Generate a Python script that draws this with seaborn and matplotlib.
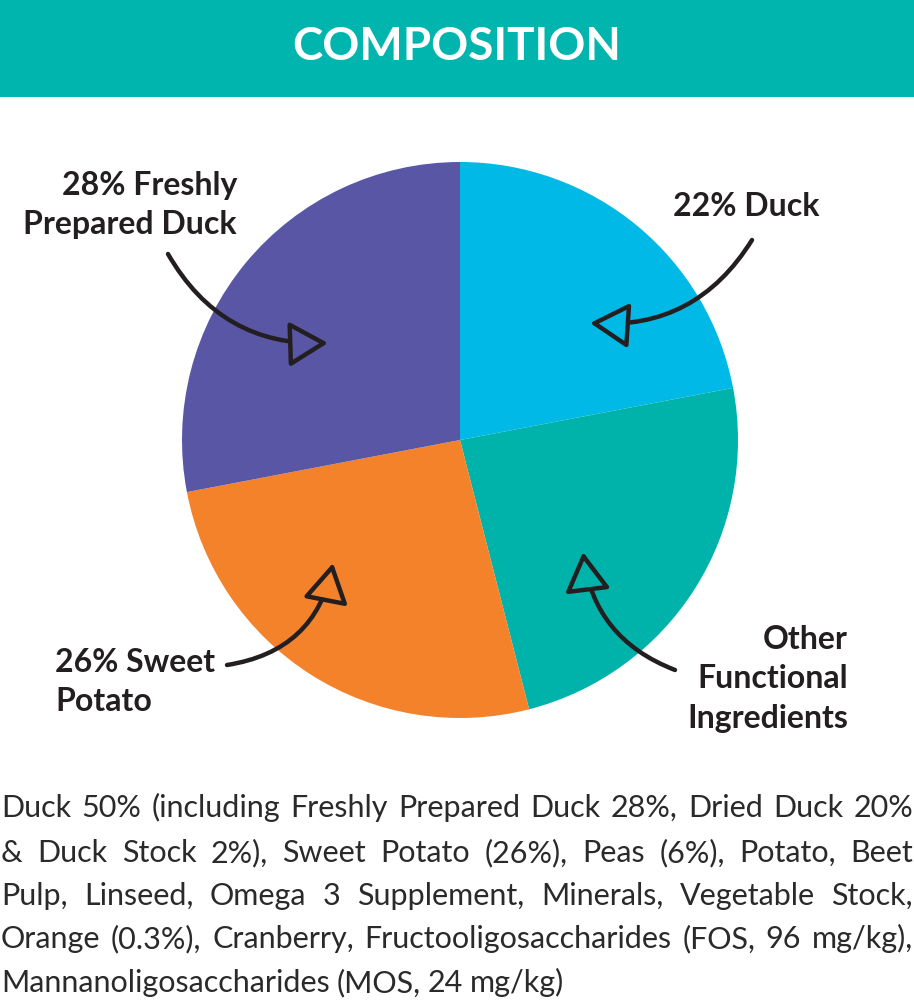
import matplotlib
matplotlib.use("Agg")
import matplotlib.pyplot as plt
import seaborn as sns

# pie data (clockwise from 12 o'clock)
labels = ["22% Duck", "Other\nFunctional\nIngredients", "26% Sweet\nPotato", "28% Freshly\nPrepared Duck"]
shares = [22, 24, 26, 28]
colors = ["#00B9E6", "#00B3AA", "#F4822A", "#5856A5"]

title = "COMPOSITION"
body_lines = [
    "Duck 50% (including Freshly Prepared Duck 28%, Dried Duck 20%",
    "& Duck Stock 2%), Sweet Potato (26%), Peas (6%), Potato, Beet",
    "Pulp, Linseed, Omega 3 Supplement, Minerals, Vegetable Stock,",
    "Orange (0.3%), Cranberry, Fructooligosaccharides (FOS, 96 mg/kg),",
    "Mannanoligosaccharides (MOS, 24 mg/kg)",
]

sns.set_theme(style="white")
plt.rcParams["font.family"] = ["Lato", "DejaVu Sans"]
ink = "#231F20"

W, H = 914, 1000
fig = plt.figure(figsize=(W / 100, H / 100), dpi=100)
ax = fig.add_axes([0, 0, 1, 1])

def Y(y):
    # image pixel row -> data y
    return H - y

# header bar
ax.add_patch(plt.Rectangle((0, Y(97)), W, 97, color="#00B5AD", lw=0))
ax.text(457, Y(47), title, color="white", fontsize=33, fontweight="bold",
        ha="center", va="center")

# pie
ax.pie(shares, colors=colors, startangle=90, counterclock=False,
       center=(460, Y(440)), radius=278, frame=True,
       wedgeprops=dict(linewidth=0))
ax.set_xlim(0, W)
ax.set_ylim(0, H)
ax.set_aspect("auto")
ax.axis("off")

# labels: (x, y, ha)
label_pos = [
    (746, 207, "center"),
    (848, 679, "right"),
    (55, 682, "left"),
    (237, 205, "right"),
]
for lab, (x, y, ha) in zip(labels, label_pos):
    ax.text(x, Y(y), lab, fontsize=23, fontweight="bold", color=ink,
            ha=ha, va="center", multialignment=ha, linespacing=1.45)

# arrows: tail, tip, curvature
arrows = [
    ((752, 240), (590, 323), -0.3),
    ((675, 670), (583, 552), -0.3),
    ((227, 665), (333, 563), 0.35),
    ((168, 254), (328, 343), 0.3),
]
for (tail, tip, rad), c in zip(arrows, colors):
    ax.annotate("", xy=(tip[0], Y(tip[1])), xytext=(tail[0], Y(tail[1])),
                arrowprops=dict(arrowstyle="-|>,head_length=1.2,head_width=0.7",
                                connectionstyle=f"arc3,rad={rad}",
                                mutation_scale=20, lw=3.2, ec=ink, fc=c,
                                shrinkA=0, shrinkB=0, joinstyle="round",
                                capstyle="round"))

# justified ingredient text
renderer = fig.canvas.get_renderer()
baselines = [817, 862, 905, 948, 992]
for i, (line, yb) in enumerate(zip(body_lines, baselines)):
    words = line.split(" ")
    texts = [ax.text(0, Y(yb), w, fontsize=22, fontweight="normal", color="#2a2a2a",
                     ha="left", va="baseline") for w in words]
    widths = [t.get_window_extent(renderer).width for t in texts]
    last = i == len(body_lines) - 1
    space = 7 if last else (W - 2 - sum(widths)) / (len(words) - 1)
    x = 1
    for t, w in zip(texts, widths):
        t.set_x(x)
        x += w + space

fig.savefig("out.png", dpi=100)
